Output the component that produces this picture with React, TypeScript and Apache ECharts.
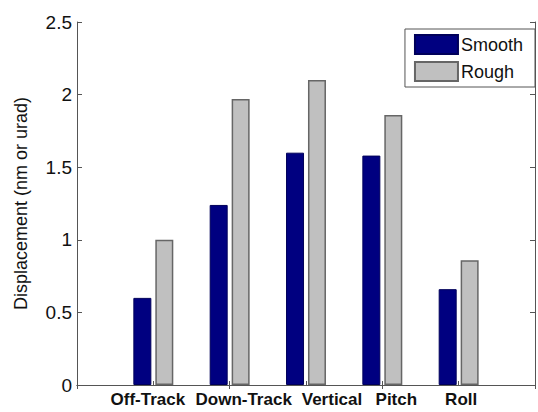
import React, { useEffect, useRef } from "react";
import * as echarts from "echarts";

const categories = ["Off-Track", "Down-Track", "Vertical", "Pitch", "Roll"];
const smooth = [0.6, 1.24, 1.6, 1.58, 0.66];
const rough = [1.0, 1.97, 2.1, 1.86, 0.86];
const yTicks = { min: 0, max: 2.5, interval: 0.5 };

export default function App() {
  const ref = useRef<HTMLDivElement>(null);
  useEffect(() => {
    if (!ref.current) return;
    const chart = echarts.init(ref.current, null, { renderer: "svg" });
    // horizontal shift of each tick label relative to its tick (as in the reference)
    const labelShift: Record<string, number> = {
      "Off-Track": -5.5,
      "Down-Track": 14,
      Vertical: 26,
      Pitch: 14,
      Roll: 2.5,
    };
    const padded = ["", ...categories, ""];
    const pad = (a: number[]) => ["-", ...a, "-"];
    const font = "'Liberation Sans', Arial, Helvetica, sans-serif";
    const axisLine = { show: true, lineStyle: { color: "#555", width: 1 } };
    const rich: Record<string, any> = {};
    categories.forEach((c, i) => {
      const d = labelShift[c] || 0;
      rich["c" + i] = {
        fontSize: 17,
        fontWeight: "bold",
        color: "#111",
        fontFamily: font,
        padding: d >= 0 ? [0, 0, 0, 2 * d] : [0, -2 * d, 0, 0],
      };
    });
    chart.setOption({
      animation: false,
      backgroundColor: "#fff",
      textStyle: { fontFamily: font },
      grid: { left: 77, right: -3, top: 22, bottom: 27, containLabel: false },
      legend: {
        orient: "vertical",
        right: 3,
        top: 29,
        padding: [5, 12, 5, 9],
        itemGap: 6,
        itemWidth: 43,
        itemHeight: 19,
        backgroundColor: "#fff",
        borderColor: "#555",
        borderWidth: 1,
        borderRadius: 0,
        icon: "rect",
        textStyle: { fontSize: 18, color: "#111", fontFamily: font, padding: [0, 0, 0, -2] },
        data: ["Smooth", "Rough"],
      },
      xAxis: [
        {
          type: "category",
          data: padded,
          boundaryGap: false,
          position: "bottom",
          axisLine,
          axisTick: { show: true, inside: true, length: 4, lineStyle: { color: "#555" } },
          axisLabel: {
            margin: 6,
            interval: 0,
            formatter: (v: string) => {
              const i = categories.indexOf(v);
              return i < 0 ? "" : `{c${i}|${v}}`;
            },
            rich,
          },
          splitLine: { show: false },
        },
        {
          type: "category",
          data: padded,
          boundaryGap: false,
          position: "top",
          axisLine,
          axisTick: { show: true, inside: true, length: 4, lineStyle: { color: "#555" } },
          axisLabel: { show: false },
          splitLine: { show: false },
        },
      ],
      yAxis: [
        {
          type: "value",
          ...yTicks,
          position: "left",
          name: "Displacement (nm or urad)",
          nameLocation: "middle",
          nameGap: 47,
          nameTextStyle: { fontSize: 18, color: "#111", fontFamily: font },
          axisLine,
          axisTick: { show: true, inside: true, length: 5, lineStyle: { color: "#555" } },
          axisLabel: { fontSize: 19, color: "#111", margin: 5, fontFamily: font },
          splitLine: { show: false },
        },
        {
          type: "value",
          ...yTicks,
          position: "right",
          axisLine,
          axisTick: { show: true, inside: true, length: 5, lineStyle: { color: "#555" } },
          axisLabel: { show: false },
          splitLine: { show: false },
        },
      ],
      series: [
        {
          name: "Smooth",
          type: "bar",
          data: pad(smooth),
          barWidth: 18,
          barGap: "22%",
          itemStyle: { color: "#000080", borderColor: "#00005a", borderWidth: 1 },
        },
        {
          name: "Rough",
          type: "bar",
          data: pad(rough),
          barWidth: 18,
          barGap: "22%",
          itemStyle: { color: "#c0c0c0", borderColor: "#666", borderWidth: 1.5 },
        },
      ],
    });
    return () => chart.dispose();
  }, []);
  return (
    <div
      ref={ref}
      style={{ position: "fixed", left: 0, top: 0, width: 538, height: 412 }}
    />
  );
}
